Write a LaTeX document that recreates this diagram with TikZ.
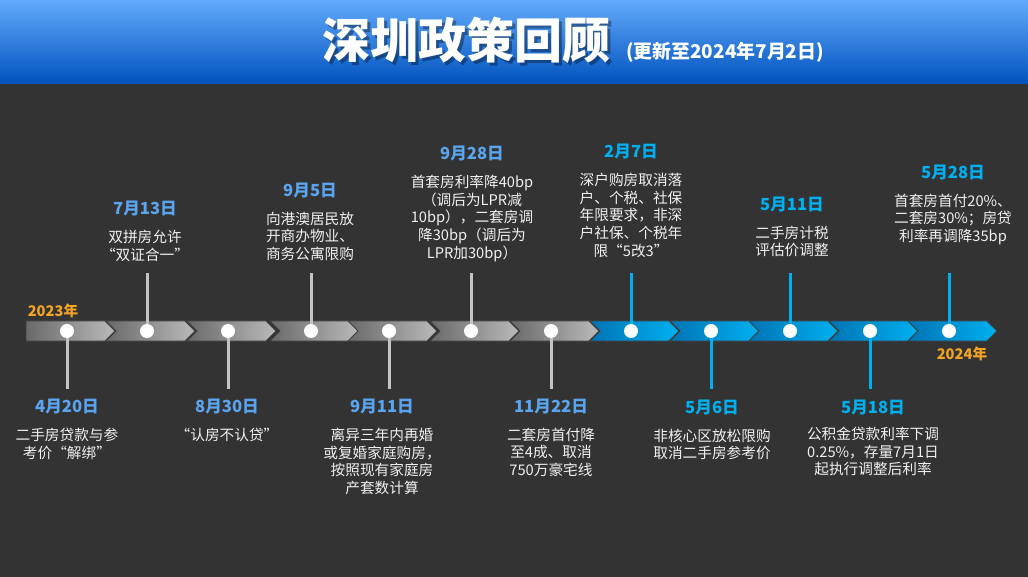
\documentclass[tikz,border=0pt]{standalone}
\usepackage{fontspec}
\setmainfont{Noto Sans CJK SC}
\usetikzlibrary{positioning}

\definecolor{bgdark}{HTML}{333333}
\definecolor{hdtop}{HTML}{62AAFB}
\definecolor{hdmid}{HTML}{0A78F0}
\definecolor{hdbot}{HTML}{0052BE}
\definecolor{date23}{HTML}{5AA5F0}
\definecolor{date24}{HTML}{00B0F0}
\definecolor{yearorange}{HTML}{F2A424}
\definecolor{graydark}{HTML}{696969}
\definecolor{graylight}{HTML}{BABABA}
\definecolor{bluedark}{HTML}{0074B4}
\definecolor{bluelight}{HTML}{00B0F0}
\definecolor{stemgray}{HTML}{C4C4C4}
\definecolor{notetext}{HTML}{F0F0F0}

\begin{document}
\begin{tikzpicture}[x=0.75pt,y=-0.75pt,
    seg/.style={draw=black!75,line width=0.6pt},
    dot/.style={circle,fill=white,inner sep=0pt,minimum size=10.5pt},
    stem/.style={line width=2.25pt},
    date/.style={font=\fontsize{12.5}{15}\selectfont\bfseries,inner sep=0pt},
    d23/.style={date,text=date23},
    d24/.style={date,text=date24},
    note/.style={font=\fontsize{11}{13.4}\selectfont,text=notetext,align=center,inner sep=0pt},
    year/.style={font=\fontsize{11}{13}\selectfont\bfseries,text=yearorange,inner sep=0pt}]
    \useasboundingbox (0,0) rectangle (1028,577);

    % Background & header
    \fill[bgdark] (0,0) rectangle (1028,577);
    \shade[top color=hdtop,middle color=hdmid,bottom color=hdbot] (0,0) rectangle (1028,84);

    % Title
    \node[font=\fontsize{36}{40}\selectfont\bfseries,text=black,opacity=0.35] at (469,43) {深圳政策回顾};
    \node[font=\fontsize{36}{40}\selectfont\bfseries,text=white] (title) at (466,40) {深圳政策回顾};
    \node[font=\fontsize{14.2}{17}\selectfont\bfseries,text=white,right=5pt of title.base east,anchor=base west] (sub) {(更新至2024年7月2日)};

    % Timeline arrows
    \foreach \cx [count=\i from 0] in {67,147,228,311,389,471,551,631,711,790,870,949} {
        \ifnum\i<7 \def\ca{graydark}\def\cb{graylight}\else\def\ca{bluedark}\def\cb{bluelight}\fi
        \ifnum\i=0
            \shadedraw[seg,left color=\ca,right color=\cb] (26,321) -- ({\cx+38},321) -- ({\cx+48},331) -- ({\cx+38},341) -- (26,341) -- cycle;
        \else
            \shadedraw[seg,left color=\ca,right color=\cb] ({\cx-41},321) -- ({\cx+38},321) -- ({\cx+48},331) -- ({\cx+38},341) -- ({\cx-41},341) -- ({\cx-31},331) -- cycle;
        \fi
        \node[dot] (c\i) at (\cx,331) {};
    }

    % Stems (down 389, up 273)
    \foreach \cx/\y [count=\i from 0] in {67/389,147/273,228/389,311/273,389/389,471/273,551/389,631/273,711/389,790/273,870/389,949/273} {
        \ifnum\i<7 \def\stemcol{stemgray}\else\def\stemcol{bluelight}\fi
        \coordinate (s\i) at (\cx,\y);
        \draw[stem,\stemcol] (c\i) -- (s\i);
    }

    % Years
    \node[year] (y23) at (53,311) {2023年};
    \node[year] (y24) at (962,354) {2024年};

    % 2023 above
    \node[d23] (d1) at (145,209) {7月13日};
    \node[note,below=9.5pt of d1] (n1) {双拼房允许\\“双证合一”};
    \node[d23] (d3) at (310,191) {9月5日};
    \node[note,below=9.5pt of d3] (n3) {向港澳居民放\\开商办物业、\\商务公寓限购};
    \node[d23] (d5) at (472,154) {9月28日};
    \node[note,below=9.5pt of d5] (n5) {首套房利率降40bp\\（调后为LPR减\\10bp），二套房调\\降30bp（调后为\\LPR加30bp）};

    % 2023 below
    \node[d23] (d0) at (67,407) {4月20日};
    \node[note,below=9.5pt of d0] (n0) {二手房贷款与参\\考价“解绑”};
    \node[d23] (d2) at (227,407) {8月30日};
    \node[note,below=9.5pt of d2] (n2) {“认房不认贷”};
    \node[d23] (d4) at (382,407) {9月11日};
    \node[note,below=9.5pt of d4] (n4) {离异三年内再婚\\或复婚家庭购房，\\按照现有家庭房\\产套数计算};
    \node[d23] (d6) at (551,407) {11月22日};
    \node[note,below=9.5pt of d6] (n6) {二套房首付降\\至4成、取消\\750万豪宅线};

    % 2024 above
    \node[d24] (d7) at (631,152) {2月7日};
    \node[note,below=9.5pt of d7] (n7) {深户购房取消落\\户、个税、社保\\年限要求，非深\\户社保、个税年\\限“5改3”};
    \node[d24] (d9) at (792,205) {5月11日};
    \node[note,below=9.5pt of d9] (n9) {二手房计税\\评估价调整};
    \node[d24] (d11) at (953,173) {5月28日};
    \node[note,below=9.5pt of d11] (n11) {首套房首付20\%、\\二套房30\%；房贷\\利率再调降35bp};

    % 2024 below
    \node[d24] (d8) at (712,408) {5月6日};
    \node[note,below=9.5pt of d8] (n8) {非核心区放松限购\\取消二手房参考价};
    \node[d24] (d10) at (873,408) {5月18日};
    \node[note,below=8pt of d10] (n10) {公积金贷款利率下调\\0.25\%，存量7月1日\\起执行调整后利率};
\end{tikzpicture}
\end{document}
